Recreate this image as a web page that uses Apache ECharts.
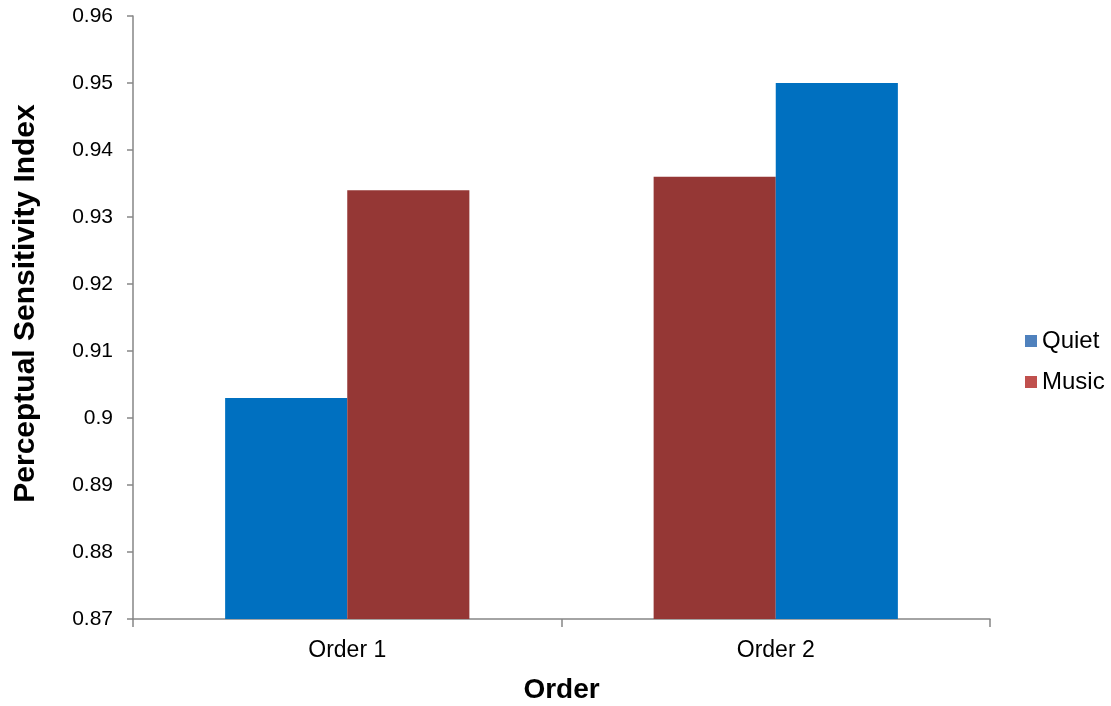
<!DOCTYPE html>
<html>
<head>
<meta charset="utf-8">
<script src="https://cdn.jsdelivr.net/npm/echarts@6/dist/echarts.min.js"></script>
<style>html,body{margin:0;padding:0;background:#fff}#chart{width:1111px;height:706px}</style>
</head>
<body>
<div id="chart"></div>
<script>
// Perceptual sensitivity by listening condition and presentation order
const categories = ['Order 1', 'Order 2'];
const quiet = [0.903, 0.950];
const music = [0.934, 0.936];
// condition presented first / second within each order
const firstCondition = ['Quiet', 'Music'];
const secondCondition = ['Music', 'Quiet'];

const barColors = { Quiet: '#0070c0', Music: '#953735' };
const legendColors = { Quiet: '#4f81bd', Music: '#c0504d' };
const values = { Quiet: quiet, Music: music };

function slotData(conditions) {
  return conditions.map((c, i) => ({ value: values[c][i], itemStyle: { color: barColors[c] } }));
}

const axisColor = '#868686';
const font = 'Liberation Sans, Arial, sans-serif';

const chart = echarts.init(document.getElementById('chart'));
chart.setOption({
  animation: false,
  grid: { left: 133, right: 121, top: 16, bottom: 87, outerBoundsMode: 'none', containLabel: false },
  legend: {
    orient: 'vertical',
    left: 1025,
    top: 329,
    padding: 0,
    itemWidth: 12,
    itemHeight: 12,
    itemGap: 17,
    icon: 'rect',
    textStyle: { fontFamily: font, fontSize: 24, color: '#000' },
    data: ['Quiet', 'Music']
  },
  xAxis: {
    type: 'category',
    data: categories,
    name: 'Order',
    nameLocation: 'middle',
    nameGap: 57,
    nameTextStyle: { fontFamily: font, fontSize: 28, fontWeight: 'bold', color: '#000' },
    axisLine: { lineStyle: { color: axisColor, width: 1.5 } },
    axisTick: { show: true, length: 8, lineStyle: { color: axisColor, width: 1.5 } },
    axisLabel: { fontFamily: font, fontSize: 23, color: '#000', margin: 20 }
  },
  yAxis: {
    type: 'value',
    min: 0.87,
    max: 0.96,
    interval: 0.01,
    name: 'Perceptual Sensitivity Index',
    nameLocation: 'middle',
    nameGap: 92,
    nameTextStyle: { fontFamily: font, fontSize: 30, fontWeight: 'bold', color: '#000', padding: [0, 0, 0, 28] },
    splitLine: { show: false },
    axisLine: { show: true, lineStyle: { color: axisColor, width: 1.5 } },
    axisTick: { show: true, length: 6, lineStyle: { color: axisColor, width: 1.5 } },
    axisLabel: { fontFamily: font, fontSize: 21, color: '#000', margin: 20 }
  },
  series: [
    {
      name: 'Quiet',
      type: 'bar',
      barGap: '0%',
      barCategoryGap: '43%',
      itemStyle: { color: legendColors.Quiet },
      data: slotData(firstCondition)
    },
    {
      name: 'Music',
      type: 'bar',
      barGap: '0%',
      barCategoryGap: '43%',
      itemStyle: { color: legendColors.Music },
      data: slotData(secondCondition)
    }
  ]
});
</script>
</body>
</html>
